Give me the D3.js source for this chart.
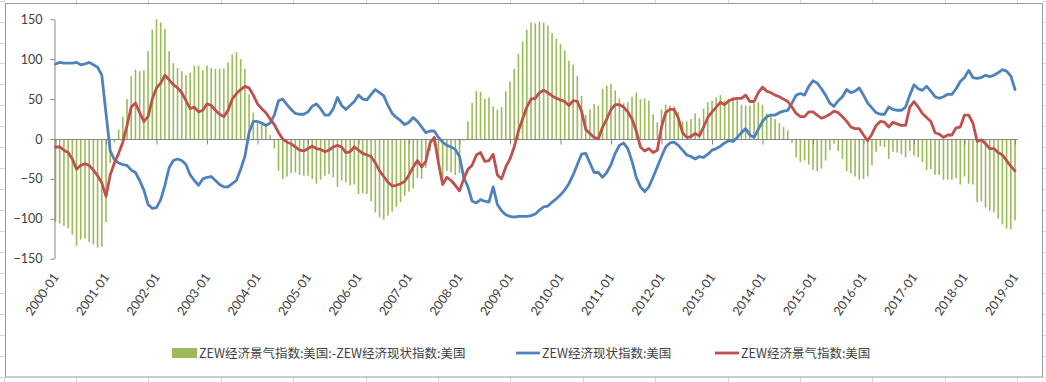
<!DOCTYPE html>
<html><head><meta charset="utf-8">
<script src="https://cdn.jsdelivr.net/npm/d3@7"></script>
<style>body{margin:0;background:#fff}svg{display:block}</style>
</head><body><svg id="c" width="1046" height="382"></svg>
<script>
// Monthly data 2000-01 .. 2019-01
const yearLabels = ["2000-01","2001-01","2002-01","2003-01","2004-01","2005-01","2006-01","2007-01","2008-01","2009-01","2010-01","2011-01","2012-01","2013-01","2014-01","2015-01","2016-01","2017-01","2018-01","2019-01"];
const yTicks = [150,100,50,0,-50,-100,-150];
const seriesNames = ["ZEW经济景气指数:美国:-ZEW经济现状指数:美国","ZEW经济现状指数:美国","ZEW经济景气指数:美国"];

// ZEW经济现状指数:美国 (current conditions)
const currentSituation = [
94,96,95,95,95,96,93,94,96,93,90,80,
32,-15,-26,-30,-32,-33,-39,-42,-52,-64,-82,-87,
-86,-76,-58,-36,-27,-25,-27,-32,-45,-52,-58,-50,
-48,-47,-52,-57,-60,-60,-56,-52,-38,-22,8,22,
22,20,17,20,30,48,50,43,37,32,31,31,
34,41,44,38,30,30,38,52,42,37,42,47,
55,50,49,56,62,58,54,42,32,27,23,18,
21,27,22,15,8,10,10,2,-4,-8,-10,-13,
-22,-48,-60,-78,-80,-76,-78,-79,-60,-82,-90,-95,
-97,-98,-97,-97,-97,-96,-94,-89,-85,-84,-79,-75,
-70,-64,-56,-45,-32,-19,-18,-30,-42,-42,-48,-42,
-32,-18,-8,-5,-12,-28,-48,-60,-66,-60,-48,-35,
-22,-10,-5,-4,-8,-14,-20,-22,-25,-22,-23,-19,
-14,-12,-9,-5,-2,-3,2,8,13,5,2,12,
22,28,30,30,33,35,36,45,55,57,55,66,
73,70,63,55,45,41,48,53,62,58,60,64,
55,45,39,33,31,31,40,37,36,36,40,55,
68,63,61,66,60,53,51,53,56,56,63,72,
77,86,77,76,77,80,78,80,83,87,85,79,
62];

// ZEW经济景气指数:美国 (expectations)
const economicSentiment = [
-10,-10,-14,-17,-25,-38,-33,-31,-33,-39,-46,-55,
-72,-45,-30,-18,-4,17,40,45,33,22,28,50,
64,70,80,74,68,64,58,48,38,40,34,36,
44,42,36,31,28,36,50,57,62,66,64,55,
44,38,33,25,18,8,0,-4,-6,-10,-14,-15,
-12,-9,-12,-13,-16,-14,-10,-8,-10,-17,-16,-10,
-14,-18,-20,-22,-30,-40,-47,-54,-59,-58,-56,-53,
-45,-35,-27,-35,-28,-5,2,-30,-57,-48,-52,-58,
-65,-50,-38,-33,-20,-17,-28,-27,-19,-45,-50,-35,
-25,-10,10,25,40,50,51,58,61,58,54,51,
49,47,42,48,47,35,12,7,2,0,15,25,
37,43,43,40,34,25,10,-10,-15,-12,-17,-14,
15,33,37,37,26,8,2,3,7,4,15,27,
34,40,46,43,48,50,51,51,55,47,47,58,
65,60,58,55,53,50,47,40,32,28,28,34,
34,30,26,28,31,35,33,28,22,15,13,13,
5,-2,6,17,22,21,15,21,19,17,17,40,
47,40,32,27,22,8,6,2,5,5,14,15,
30,30,20,-3,-1,-6,-12,-12,-17,-20,-27,-34,
-40];

// spread series as defined by the legend: sentiment minus current situation
const spread = economicSentiment.map((v, i) => v - currentSituation[i]);

const colors = {bar:"#9bbb59", current:"#4f81bd", sentiment:"#c0504d", axis:"#868686", text:"#404040"};

const svg = d3.select("#c");
svg.append("rect").attr("width",1046).attr("height",382).attr("fill","#fff");

// spreadsheet grid outside the chart object
const gridG = svg.append("g").attr("stroke","#d4d4d4").attr("stroke-width",1);
d3.range(0,15).forEach(k=>{
  const gx = Math.round(3.5 + 72.4*k)+0.5;
  gridG.append("line").attr("x1",gx).attr("x2",gx).attr("y1",0).attr("y2",3);
  gridG.append("line").attr("x1",gx).attr("x2",gx).attr("y1",377).attr("y2",382);
});
d3.range(0,19).forEach(k=>{
  const gy = Math.round(0.8 + 20.9*k)+0.5;
  gridG.append("line").attr("x1",0).attr("x2",5).attr("y1",gy).attr("y2",gy);
  gridG.append("line").attr("x1",1043).attr("x2",1046).attr("y1",gy).attr("y2",gy);
});
svg.append("rect").attr("x",5.5).attr("y",3.5).attr("width",1037).attr("height",373.5)
  .attr("fill","#fff").attr("stroke","#9a9a9a").attr("stroke-width",1);

const x = d3.scaleLinear().domain([0, currentSituation.length-1]).range([55.5, 1015]);
const y = d3.scaleLinear().domain([-150,150]).range([258.7, 19.3]);
const idx = d3.range(currentSituation.length);

// bars
svg.append("g").selectAll("rect").data(idx).join("rect")
  .attr("x", i => x(i)-0.8).attr("width",1.6)
  .attr("y", i => Math.min(y(spread[i]), y(0)))
  .attr("height", i => Math.abs(y(spread[i]) - y(0)))
  .attr("fill", colors.bar);

// y axis
const yAxis = d3.axisLeft(y).tickValues(yTicks).tickSizeInner(4).tickSizeOuter(0).tickPadding(8);
const yg = svg.append("g").attr("transform","translate(54.5,0)").call(yAxis);
yg.select(".domain").attr("stroke",colors.axis);
yg.selectAll(".tick line").attr("stroke",colors.axis);
yg.selectAll(".tick text").attr("fill",colors.text).attr("font-family","Lato, 'Liberation Sans', sans-serif").attr("font-size",12.5);

// x axis at zero
const yearTicks = d3.range(0, currentSituation.length, 12);
const xAxis = d3.axisBottom(x).tickValues(yearTicks).tickSizeInner(5).tickSizeOuter(0).tickFormat("");
const xg = svg.append("g").attr("transform",`translate(0,${Math.round(y(0))+0.5})`).call(xAxis);
xg.select(".domain").remove();
xg.append("line").attr("x1",x(-0.27)).attr("x2",x(228.6)).attr("y1",0).attr("y2",0).attr("stroke",colors.axis);
xg.selectAll(".tick line").attr("stroke",colors.axis);

// x labels
svg.append("g").selectAll("text").data(yearTicks).join("text")
  .attr("transform", i => `translate(${x(i)+4},277) rotate(-55)`)
  .attr("text-anchor","end")
  .attr("fill",colors.text)
  .attr("font-family","Lato, 'Liberation Sans', sans-serif").attr("font-size",12.5)
  .text(i => yearLabels[i/12]);

// lines
const line = arr => d3.line().x(i => x(i)).y(i => y(arr[i]))(idx);
svg.append("path").attr("d", line(currentSituation)).attr("fill","none")
  .attr("stroke",colors.current).attr("stroke-width",2.8).attr("stroke-linejoin","round").attr("stroke-linecap","round");
svg.append("path").attr("d", line(economicSentiment)).attr("fill","none")
  .attr("stroke",colors.sentiment).attr("stroke-width",2.8).attr("stroke-linejoin","round").attr("stroke-linecap","round");

// legend
const lg = svg.append("g").attr("font-family","'Noto Sans CJK SC', sans-serif").attr("font-size",12.5).attr("fill",colors.text);
lg.append("rect").attr("x",172).attr("y",348).attr("width",25).attr("height",10).attr("fill",colors.bar);
lg.append("text").attr("x",199).attr("y",357.5).text(seriesNames[0]);
lg.append("line").attr("x1",516).attr("x2",540).attr("y1",353).attr("y2",353).attr("stroke",colors.current).attr("stroke-width",2.8);
lg.append("text").attr("x",542).attr("y",357.5).text(seriesNames[1]);
lg.append("line").attr("x1",715).attr("x2",739).attr("y1",353).attr("y2",353).attr("stroke",colors.sentiment).attr("stroke-width",2.8);
lg.append("text").attr("x",741).attr("y",357.5).text(seriesNames[2]);
</script></body></html>
